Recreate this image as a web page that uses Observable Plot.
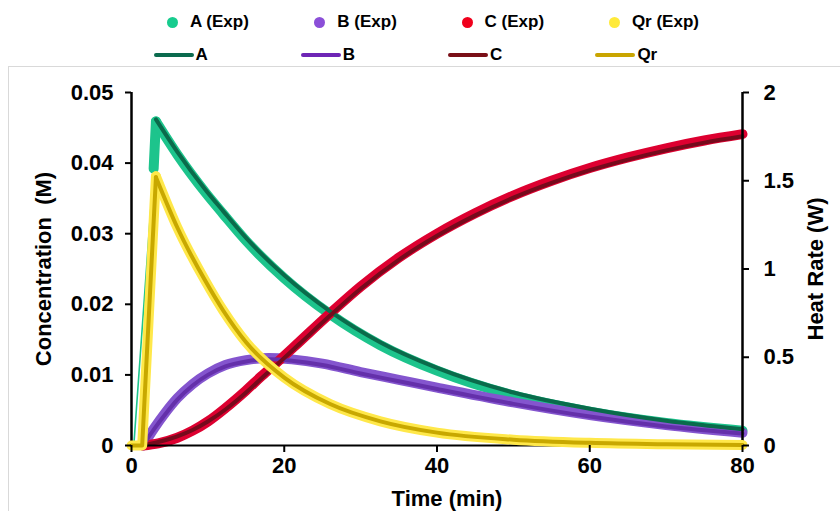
<!DOCTYPE html>
<html><head><meta charset="utf-8">
<script src="https://cdn.jsdelivr.net/npm/d3@7"></script>
<script src="https://cdn.jsdelivr.net/npm/@observablehq/plot@0.6"></script>
<style>
body{margin:0;background:#fff;font-family:"Liberation Sans",Arial,sans-serif;}
#wrap{position:relative;width:840px;height:511px;overflow:hidden;background:#fff;}
#frame{position:absolute;left:8px;top:66px;width:900px;height:500px;border:1px solid #d9d9d9;}
#legend{position:absolute;left:0;top:0;width:840px;height:67px;}
.li{position:absolute;display:flex;align-items:center;font-weight:bold;font-size:17px;color:#000;height:20px;line-height:20px;white-space:nowrap;}
.dot{width:11px;height:11px;border-radius:50%;margin-right:12px;margin-left:5px;}
.ln{width:40px;height:3.5px;border-radius:2px;margin-right:2px;}
#chart{position:absolute;left:0;top:67px;}
</style></head><body>
<div id="wrap"><div id="frame"></div><div id="legend"></div><div id="chart"></div></div>
<script>
// ---- data (time in min) ----
const xTicks = [0, 20, 40, 60, 80];
const yTicks = [0, 0.01, 0.02, 0.03, 0.04, 0.05];     // concentration (M)
const qTicks = [0, 0.5, 1, 1.5, 2];                    // heat rate (W)

// A: experimental (rise drawn thin, then decay) and model
const aExpRise = [[0.3, 0], [2.9, 0.0392]];
const aExp = [[2.9, 0.0392], [3.2, 0.0459], [6, 0.0412], [9.7, 0.0358], [12, 0.0328], [15, 0.0290], [20, 0.0237], [26, 0.0186], [32.6, 0.0142], [40, 0.0106], [50, 0.0071], [60, 0.0048], [70, 0.0032], [80, 0.0021]];
const aModel = [[3.2, 0.0462], [6, 0.0416], [9.7, 0.0362], [12, 0.0332], [15, 0.0294], [20, 0.0241], [26, 0.0190], [32.6, 0.0146], [40, 0.0110], [50, 0.0075], [60, 0.0052], [70, 0.0035], [80, 0.0023]];

// B
const bExp = [[1.5, 0], [3, 0.0025], [4.4, 0.0046], [6, 0.0067], [8, 0.0087], [10, 0.0102], [12.3, 0.0114], [15, 0.0121], [18, 0.0124], [21, 0.0122], [25, 0.0116], [30, 0.0104], [35, 0.0093], [40, 0.0082], [50, 0.0061], [60, 0.0043], [70, 0.0029], [80, 0.0018]];
const bModel = [[1.5, 0], [3, 0.0024], [4.4, 0.0044], [6, 0.0065], [8, 0.0085], [10, 0.0100], [12.3, 0.0112], [15, 0.0119], [18, 0.0122], [21, 0.0120], [25, 0.0114], [30, 0.0102], [35, 0.0091], [40, 0.0080], [50, 0.0059], [60, 0.0041], [70, 0.0027], [80, 0.0017]];

// C
const cExp = [[1.5, 0], [3.5, 0.0003], [6, 0.0011], [8, 0.0021], [10, 0.0034], [12.3, 0.0053], [15, 0.0078], [17, 0.0098], [19.5, 0.0122], [22, 0.0147], [26, 0.0187], [30, 0.0225], [35, 0.0266], [40, 0.0300], [45, 0.0329], [50, 0.0354], [55, 0.0375], [60, 0.0393], [65, 0.0408], [70, 0.0421], [75, 0.0432], [80, 0.0441]];
const cModel = [[1.5, 0], [3.5, 0.0005], [6, 0.0013], [8, 0.0022], [10, 0.0034], [12.3, 0.0051], [15, 0.0075], [17, 0.0095], [19.5, 0.0119], [22, 0.0144], [26, 0.0184], [30, 0.0222], [35, 0.0263], [40, 0.0297], [45, 0.0326], [50, 0.0351], [55, 0.0372], [60, 0.0390], [65, 0.0405], [70, 0.0418], [75, 0.0429], [80, 0.0438]];

// Qr heat rate (W), right axis
const qExp = [[0, 0], [1.4, 0], [3.2, 1.525], [6, 1.235], [9.7, 0.93], [12, 0.765], [15, 0.585], [20, 0.385], [26, 0.235], [32.6, 0.137], [40, 0.073], [50, 0.033], [60, 0.015], [70, 0.007], [80, 0.003]];
const qModel = [[0, 0], [1.4, 0], [3.2, 1.52], [6, 1.235], [9.7, 0.93], [12, 0.765], [15, 0.585], [20, 0.385], [26, 0.235], [32.6, 0.137], [40, 0.073], [50, 0.033], [60, 0.015], [70, 0.007], [80, 0.003]];

const expNames = ["A (Exp)", "B (Exp)", "C (Exp)", "Qr (Exp)"];
const modelNames = ["A", "B", "C", "Qr"];
const expColors = ["#1DC48C", "#8455CE", "#DD0030", "#FFE84A"];
const modelColors = ["#0A6B4B", "#6430AA", "#760A1C", "#C8A800"];
const legendDotColors = ["#17CC8E", "#8B4FD8", "#F0001C", "#FFEA3A"];
const legendLineColors = ["#0B6B4E", "#6E25B5", "#7A0F17", "#C9A500"];

// ---- legend ----
const legend = document.getElementById("legend");
expNames.forEach((n, i) => {
  const e = document.createElement("div");
  e.className = "li";
  e.style.left = (162 + i * 147.3) + "px";
  e.style.top = "12px";
  e.innerHTML = `<span class="dot" style="background:${legendDotColors[i]}"></span>${n}`;
  legend.appendChild(e);
});
modelNames.forEach((n, i) => {
  const e = document.createElement("div");
  e.className = "li";
  e.style.left = (153.5 + i * 147.3) + "px";
  e.style.top = "45px";
  e.innerHTML = `<span class="ln" style="background:${legendLineColors[i]}"></span>${n}`;
  legend.appendChild(e);
});

// ---- chart ----
const qScale = 0.05 / 2; // 2 W at the top of the right axis = 0.05 M at the top of the left
const rows = (arr, s = 1) => arr.map(([t, v]) => ({t, v: v * s}));
const EXPW = 10, MODW = 4;

function seg(arr, peak, stroke, strokeWidth, s = 1) {
  const r = rows(arr, s);
  const out = [];
  const up = r.filter(d => d.t <= peak), down = r.filter(d => d.t >= peak);
  if (up.length > 1) out.push(Plot.line(up, {x: "t", y: "v", stroke, strokeWidth, curve: "linear"}));
  if (down.length > 1) out.push(Plot.line(down, {x: "t", y: "v", stroke, strokeWidth, curve: "monotone-x"}));
  return out;
}

const fmt = d3.format("~g");
const FS = 22;
const chart = Plot.plot({
  width: 840, height: 444,
  marginTop: 25, marginBottom: 66, marginLeft: 131, marginRight: 98,
  style: {fontFamily: "'Liberation Sans', Arial, sans-serif", fontSize: FS + "px", fontWeight: "bold", background: "transparent"},
  x: {domain: [0, 80], axis: null, label: null},
  y: {domain: [0, 0.05], axis: null, label: null},
  marks: [
    // experimental (primary axis)
    Plot.line(rows(aExpRise), {x: "t", y: "v", stroke: expColors[0], strokeWidth: 1.6}),
    ...seg(aExp, 3.2, expColors[0], EXPW),
    ...seg(bExp, 0, expColors[1], EXPW),
    ...seg(cExp, 0, expColors[2], EXPW),
    // models (primary axis)
    ...seg(aModel, 3.2, modelColors[0], MODW),
    ...seg(bModel, 0, modelColors[1], MODW),
    ...seg(cModel, 0, modelColors[2], MODW),
    // axes lines
    Plot.ruleY([0], {stroke: "#000", strokeWidth: 2}),
    Plot.ruleX([0], {stroke: "#000", strokeWidth: 2.5}),
    Plot.ruleX([80], {stroke: "#000", strokeWidth: 2.5}),
    // secondary axis series
    ...seg(qExp, 3.2, expColors[3], EXPW, qScale),
    ...seg(qModel, 3.2, modelColors[3], MODW, qScale),
    // ticks & labels
    Plot.axisX(xTicks, {tickSize: 7, tickPadding: 5, strokeWidth: 2, fontSize: FS, fontWeight: "bold", label: null}),
    Plot.axisY(yTicks, {anchor: "left", tickSize: 6, tickPadding: 12, strokeWidth: 2, tickFormat: fmt, fontSize: FS, fontWeight: "bold", label: null}),
    Plot.axisY(qTicks.map(w => w * qScale), {anchor: "right", tickSize: 6, tickPadding: 15, strokeWidth: 2,
      tickFormat: d => fmt(Math.round(d / qScale * 100) / 100), fontSize: FS, fontWeight: "bold", label: null}),
    // axis titles
    Plot.text(["Time (min)"], {frameAnchor: "bottom", dx: 10, dy: 53, text: d => d, fontSize: FS, fontWeight: "bold", lineAnchor: "middle", textAnchor: "middle"}),
    Plot.text(["Concentration\u00a0\u00a0(M)"], {frameAnchor: "left", dx: -88, rotate: -90, text: d => d, fontSize: FS, fontWeight: "bold", lineAnchor: "middle", textAnchor: "middle"}),
    Plot.text(["Heat Rate (W)"], {frameAnchor: "right", dx: 73, rotate: -90, text: d => d, fontSize: FS, fontWeight: "bold", lineAnchor: "middle", textAnchor: "middle"})
  ]
});
document.getElementById("chart").appendChild(chart);
</script>
</body></html>
